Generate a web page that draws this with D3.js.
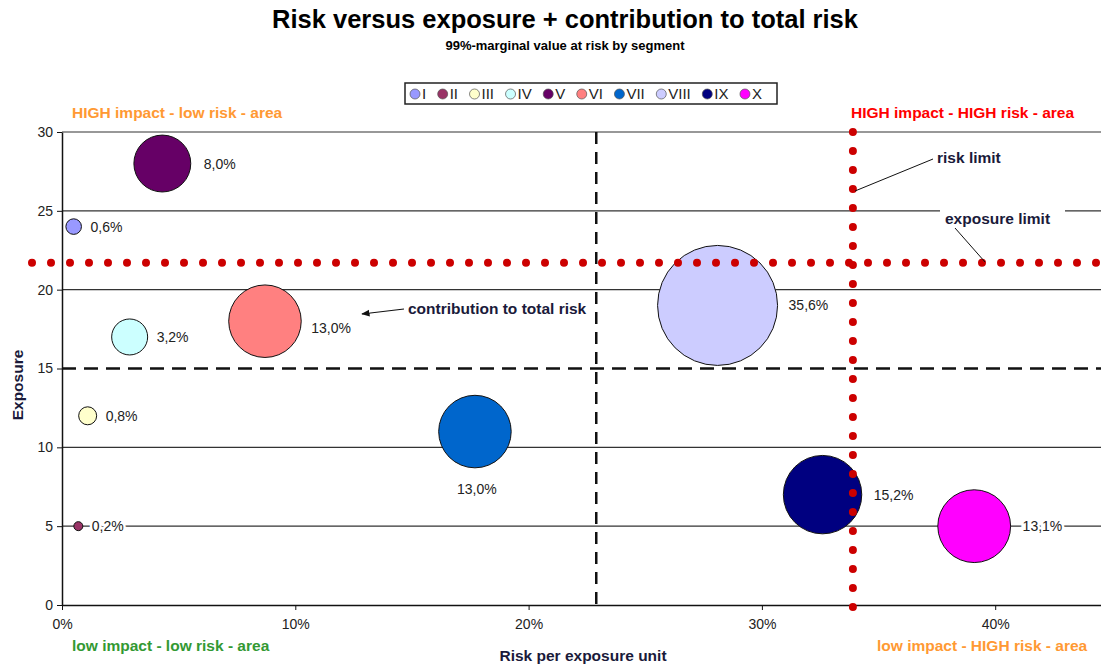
<!DOCTYPE html>
<meta charset="utf-8">
<style>
body { margin: 0; background: #fff; }
text { font-family: "Liberation Sans", Arial, sans-serif; }
.tick text { font-size: 14px; fill: #222; }
.lbl { font-size: 14px; fill: #222; }
.note { font-size: 15.5px; font-weight: bold; fill: #1a1a3a; }
.corner { font-size: 15.5px; font-weight: bold; }
</style>
<svg width="1101" height="667"></svg>
<script src="https://d3js.org/d3.v7.min.js"></script>
<script>

var segments = ["I", "II", "III", "IV", "V", "VI", "VII", "VIII", "IX", "X"];
var riskPerUnit = [0.005, 0.007, 0.011, 0.029, 0.043, 0.087, 0.177, 0.281, 0.326, 0.391];
var exposure = [24, 5, 12, 17, 28, 18, 11, 19, 7, 5];
var contribution = [0.6, 0.2, 0.8, 3.2, 8.0, 13.0, 13.0, 35.6, 15.2, 13.1];
var colors = ["#9999ff", "#993366", "#ffffcc", "#ccffff", "#660066", "#ff8080", "#0066cc", "#ccccff", "#000080", "#ff00ff"];
var riskLimit = 0.339, exposureLimit = 21.7;
var riskSplit = 0.229, exposureSplit = 15;
var yTicks = [0, 5, 10, 15, 20, 25, 30];
var xTicks = [0, 0.1, 0.2, 0.3, 0.4];

var svg = d3.select("svg"),
    mLeft = 62, mTop = 132, mBottom = 605;

var x = d3.scaleLinear().domain([0, 0.45]).range([mLeft, mLeft + 4.5 * 233.3]);
var y = d3.scaleLinear().domain([0, 30]).range([mBottom, mTop]);
var r = d3.scaleSqrt().domain([0, 35.6]).range([0, 60]);
var fmt = function(v) { return v.toFixed(1).replace(".", ",") + "%"; };

// title
svg.append("text").attr("x", 565).attr("y", 28).attr("text-anchor", "middle")
    .style("font-size", "25.5px").style("font-weight", "bold").text("Risk versus exposure + contribution to total risk");
svg.append("text").attr("x", 565).attr("y", 50).attr("text-anchor", "middle")
    .style("font-size", "13px").style("font-weight", "bold").text("99%-marginal value at risk by segment");

// legend
var legend = svg.append("g");
legend.append("rect").attr("x", 405).attr("y", 83).attr("width", 372).attr("height", 21)
    .attr("fill", "#fff").attr("stroke", "#222").attr("stroke-width", 1.5);
var lx = 415;
segments.forEach(function(s, i) {
  legend.append("circle").attr("cx", lx).attr("cy", 94).attr("r", 5)
      .attr("fill", colors[i]).attr("stroke", "#555").attr("stroke-width", 0.7);
  var t = legend.append("text").attr("class", "lbl").attr("x", lx + 7).attr("y", 99)
      .style("font-size", "15px").text(s);
  lx += 7 + t.node().getComputedTextLength() + 16.5;
});

// gridlines
svg.append("g").selectAll("line").data(yTicks.filter(function(d) { return d > 0 && d != exposureSplit; }))
  .enter().append("line")
    .attr("x1", mLeft).attr("x2", 1101).attr("y1", function(d) { return y(d); }).attr("y2", function(d) { return y(d); })
    .attr("stroke", "#333").attr("stroke-width", 1.2);

// axes
var yAxis = svg.append("g").attr("transform", "translate(" + mLeft + ",0)")
    .call(d3.axisLeft(y).tickValues(yTicks).tickSize(5).tickSizeOuter(0));
var xAxis = svg.append("g").attr("transform", "translate(0," + mBottom + ")")
    .call(d3.axisBottom(x).tickValues(xTicks).tickFormat(d3.format(".0%")).tickSize(5).tickSizeOuter(0));
svg.selectAll(".domain").attr("stroke", "#111").attr("stroke-width", 1.5);
svg.selectAll(".tick line").attr("stroke", "#111");
yAxis.selectAll("text").attr("x", -9);
xAxis.selectAll("text").attr("y", 14).attr("dy", "0.71em");

// split lines (dashed)
svg.append("line").attr("x1", x(riskSplit)).attr("x2", x(riskSplit)).attr("y1", mTop).attr("y2", mBottom)
    .attr("stroke", "#111").attr("stroke-width", 2.5).attr("stroke-dasharray", "12 8");
svg.append("line").attr("x1", mLeft).attr("x2", 1101).attr("y1", y(exposureSplit)).attr("y2", y(exposureSplit))
    .attr("stroke", "#111").attr("stroke-width", 2.5).attr("stroke-dasharray", "14 8");

// bubbles
var pts = segments.map(function(s, i) {
  return { name: s, x: riskPerUnit[i], y: exposure[i], v: contribution[i], c: colors[i] };
});
svg.append("g").selectAll("circle").data(pts).enter().append("circle")
    .attr("cx", function(d) { return x(d.x); })
    .attr("cy", function(d) { return y(d.y); })
    .attr("r", function(d) { return r(d.v); })
    .attr("fill", function(d) { return d.c; })
    .attr("stroke", "#111").attr("stroke-width", 1);

// bubble labels
var labelPos = { V: [13, 5], VI: [10, 12], VII: [-18, 62], VIII: [11, 5], IX: [12, 5], X: [12, 5] };
svg.append("g").selectAll("text").data(pts).enter().append("text")
    .attr("class", "lbl")
    .attr("x", function(d) {
      var o = labelPos[d.name];
      return o && d.name == "VII" ? x(d.x) + o[0] : x(d.x) + r(d.v) + (o ? o[0] : 9);
    })
    .attr("y", function(d) { var o = labelPos[d.name]; return y(d.y) + (o ? o[1] : 5); })
    .attr("paint-order", "stroke").attr("stroke", "#fff").attr("stroke-width", 5)
    .text(function(d) { return fmt(d.v); });

// limits (red dotted)
svg.append("line").attr("x1", mLeft - 30).attr("x2", 1101).attr("y1", y(exposureLimit)).attr("y2", y(exposureLimit))
    .attr("stroke", "#cc0000").attr("stroke-width", 8).attr("stroke-linecap", "round").attr("stroke-dasharray", "0 19");
svg.append("line").attr("x1", x(riskLimit)).attr("x2", x(riskLimit)).attr("y1", mTop).attr("y2", mBottom + 5)
    .attr("stroke", "#cc0000").attr("stroke-width", 8).attr("stroke-linecap", "round").attr("stroke-dasharray", "0 19");

// annotations
svg.append("defs").append("marker").attr("id", "arr").attr("viewBox", "0 0 10 10").attr("refX", 9).attr("refY", 5)
    .attr("markerWidth", 7).attr("markerHeight", 7).attr("orient", "auto")
  .append("path").attr("d", "M0,1L10,5L0,9z").attr("fill", "#111");
svg.append("line").attr("x1", 404).attr("y1", 309).attr("x2", 362).attr("y2", 314)
    .attr("stroke", "#111").attr("stroke-width", 1.2).attr("marker-end", "url(#arr)");
svg.append("text").attr("class", "note").attr("x", 408).attr("y", 314).text("contribution to total risk");

svg.append("line").attr("x1", 933).attr("y1", 159).attr("x2", 855).attr("y2", 191).attr("stroke", "#111").attr("stroke-width", 1);
svg.append("text").attr("class", "note").attr("x", 937).attr("y", 163).text("risk limit");

svg.append("rect").attr("x", 940).attr("y", 205).attr("width", 125).attr("height", 18).attr("fill", "#fff");
svg.append("line").attr("x1", 955).attr("y1", 228).attr("x2", 985).attr("y2", 262).attr("stroke", "#111").attr("stroke-width", 1);
svg.append("text").attr("class", "note").attr("x", 945).attr("y", 224).text("exposure limit");

// corner labels
svg.append("text").attr("class", "corner").attr("x", 72).attr("y", 118).attr("fill", "#ff9933").text("HIGH impact - low risk - area");
svg.append("text").attr("class", "corner").attr("x", 851).attr("y", 118).attr("fill", "#ff0000").text("HIGH impact - HIGH risk - area");
svg.append("text").attr("class", "corner").attr("x", 72).attr("y", 651).attr("fill", "#339933").text("low impact - low risk - area");
svg.append("text").attr("class", "corner").attr("x", 877).attr("y", 651).attr("fill", "#ff9933").text("low impact - HIGH risk - area");

// axis titles
svg.append("text").attr("class", "note").attr("x", 583).attr("y", 661).attr("text-anchor", "middle").attr("fill", "#111")
    .text("Risk per exposure unit");
svg.append("text").attr("class", "note").attr("transform", "translate(23,385) rotate(-90)").attr("text-anchor", "middle")
    .text("Exposure");

</script>
